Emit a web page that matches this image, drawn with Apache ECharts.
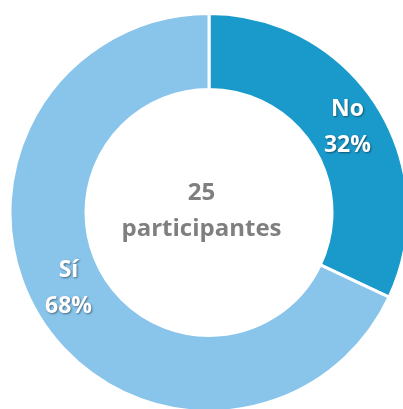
<!DOCTYPE html>
<html>
<head>
<meta charset="utf-8">
<script src="https://cdn.jsdelivr.net/npm/echarts@6/dist/echarts.min.js"></script>
<style>
  html, body { margin: 0; padding: 0; background: #fff; }
  #main { width: 403px; height: 409px; }
</style>
</head>
<body>
<div id="main"></div>
<script>
var categories = ['No', 'Sí'];
var values = [32, 68];
var colors = ['#1a9acb', '#89c4ea'];
// label nudges so the text sits where Excel put it
var labelShift = [[0, 3], [-2, -12]];
var centerLines = ['25', 'participantes'];

var myChart = echarts.init(document.getElementById('main'));

var pieData = [];
for (var i = 0; i < categories.length; i++) {
    pieData.push({
        name: categories[i],
        value: values[i],
        itemStyle: { color: colors[i] },
        label: { offset: labelShift[i] }
    });
}

var option = {
    animation: false,
    graphic: [{
        type: 'text',
        left: 'center',
        top: 175,
        style: {
            text: centerLines.join('\n'),
            textAlign: 'center',
            font: 'bold 24px "Open Sans"',
            lineHeight: 36,
            fill: '#7f7f7f'
        }
    }],
    series: [
        {
            type: 'pie',
            center: [209, 212.5],
            radius: [123, 199],
            startAngle: 90,
            clockwise: true,
            silent: true,
            itemStyle: { borderColor: '#fff', borderWidth: 3 },
            label: {
                position: 'inside',
                formatter: '{b}\n{d}%',
                color: '#fff',
                fontFamily: 'Open Sans',
                fontWeight: 'bold',
                fontSize: 23,
                lineHeight: 36,
                textShadowColor: 'rgba(0,0,0,0.45)',
                textShadowBlur: 2,
                textShadowOffsetX: 1,
                textShadowOffsetY: 1
            },
            labelLine: { show: false },
            data: pieData
        }
    ]
};

myChart.setOption(option);
</script>
</body>
</html>
